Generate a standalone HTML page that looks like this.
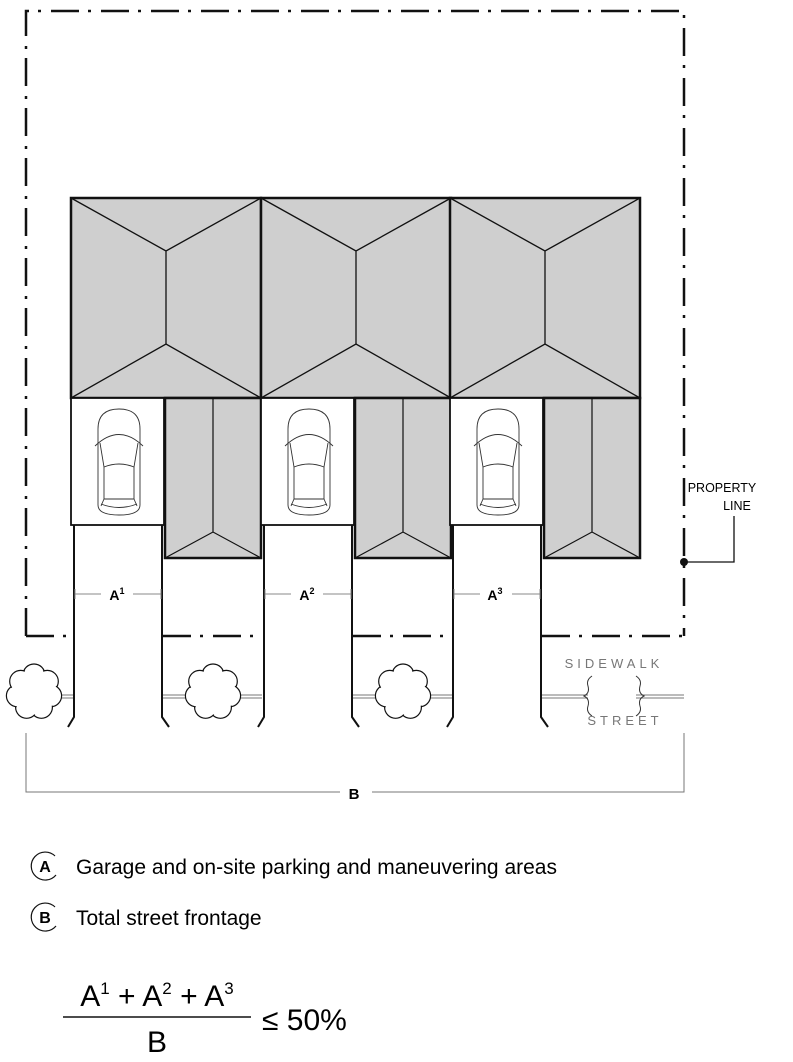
<!DOCTYPE html>
<html><head><meta charset="utf-8"><style>
html,body{margin:0;padding:0;background:#fff;}
svg{display:block;}
text{font-family:"Liberation Sans",Arial,sans-serif;}
</style></head><body>
<svg width="793" height="1062" viewBox="0 0 793 1062" xmlns="http://www.w3.org/2000/svg">
<defs>
<g id="car" fill="none" stroke="#333" stroke-width="0.9">
  <path d="M0,20 Q0,0 21,0 Q42,0 42,20 L42,96 Q42,106 21,106 Q0,106 0,96 Z"/>
  <path d="M-3,37 Q21,14 45,37"/>
  <path d="M2,34 L6,58 Q21,52 36,58 L40,34"/>
  <path d="M6,58 L6,90 M36,58 L36,90"/>
  <path d="M6,90 L36,90 M3,95 Q21,102 39,95 M6,90 L3,97 M36,90 L39,97"/>
</g>
<g id="unit">
  <rect x="0" y="198" width="190" height="200" fill="#cfcfcf" stroke="#111" stroke-width="2.5"/>
  <path d="M0,198 L95,251 L190,198 M95,251 L95,344 M0,398 L95,344 L190,398" fill="none" stroke="#111" stroke-width="1.3"/>
  <rect x="0" y="398" width="93" height="127" fill="#fff" stroke="#111" stroke-width="1.8"/>
  <rect x="94" y="398" width="96" height="160" fill="#cfcfcf" stroke="#111" stroke-width="2.5"/>
  <path d="M142,398 L142,532 M94,558 L142,532 L190,558" fill="none" stroke="#111" stroke-width="1.2"/>
  <use href="#car" x="27" y="409"/>
  <path d="M3,525 L3,717 L-3,727 M91,525 L91,717 L98,727" fill="none" stroke="#111" stroke-width="2"/>
  <path d="M4,594 L30,594 M62,594 L90,594 M4,589 L4,599 M90,589 L90,599" stroke="#888" stroke-width="1"/>
</g>
<g id="tree">
  <g fill="#fff" stroke="#111" stroke-width="1.2">
    <circle cx="0" cy="-17" r="11"/><circle cx="13.3" cy="-10.6" r="11"/><circle cx="16.6" cy="3.8" r="11"/>
    <circle cx="7.4" cy="15.3" r="11"/><circle cx="-7.4" cy="15.3" r="11"/><circle cx="-16.6" cy="3.8" r="11"/><circle cx="-13.3" cy="-10.6" r="11"/>
  </g>
  <g fill="#fff">
    <circle cx="0" cy="-17" r="9.9"/><circle cx="13.3" cy="-10.6" r="9.9"/><circle cx="16.6" cy="3.8" r="9.9"/>
    <circle cx="7.4" cy="15.3" r="9.9"/><circle cx="-7.4" cy="15.3" r="9.9"/><circle cx="-16.6" cy="3.8" r="9.9"/><circle cx="-13.3" cy="-10.6" r="9.9"/>
    <circle cx="0" cy="0" r="18"/>
  </g>
</g>
</defs>

<g fill="none" stroke="#111" stroke-width="2.5" stroke-dasharray="28,9,3,10">
  <path d="M26,636 L26,11 L684,11 L684,636"/>
  <path d="M26,636 L73,636"/>
  <path d="M163,636 L262,636"/>
  <path d="M353,636 L452,636"/>
  <path d="M542,636 L684,636"/>
</g>

<g stroke="#777" stroke-width="1">
  <path d="M60,695 L73,695 M60,698 L73,698"/>
  <path d="M163,695 L262,695 M163,698 L262,698"/>
  <path d="M353,695 L452,695 M353,698 L452,698"/>
  <path d="M542,695 L588,695 M542,698 L588,698 M636,695 L684,695 M636,698 L684,698"/>
</g>

<use href="#unit" x="71"/>
<use href="#unit" x="261"/>
<use href="#unit" x="450"/>

<text x="117" y="600" font-size="14" font-weight="bold" text-anchor="middle">A<tspan font-size="9" dy="-6">1</tspan></text>
<text x="307" y="600" font-size="14" font-weight="bold" text-anchor="middle">A<tspan font-size="9" dy="-6">2</tspan></text>
<text x="495" y="600" font-size="14" font-weight="bold" text-anchor="middle">A<tspan font-size="9" dy="-6">3</tspan></text>

<use href="#tree" x="34" y="692"/>
<use href="#tree" x="213" y="692"/>
<use href="#tree" x="403" y="692"/>

<path d="M592,676 Q586,680 588,686 Q590,693 584,696 Q590,699 588,706 Q586,712 592,716" fill="none" stroke="#333" stroke-width="1"/>
<path d="M636,676 Q642,680 640,686 Q638,693 644,696 Q638,699 640,706 Q642,712 636,716" fill="none" stroke="#333" stroke-width="1"/>
<text x="614" y="668" font-size="13" fill="#777" text-anchor="middle" letter-spacing="4">SIDEWALK</text>
<text x="625" y="725" font-size="13" fill="#777" text-anchor="middle" letter-spacing="4">STREET</text>

<text x="722" y="492" font-size="12.5" text-anchor="middle">PROPERTY</text>
<text x="737" y="510" font-size="12.5" text-anchor="middle">LINE</text>
<path d="M734,516 L734,562 L686,562" fill="none" stroke="#111" stroke-width="1.3"/>
<circle cx="684" cy="562" r="4" fill="#111"/>

<path d="M26,733 L26,792 L340,792 M372,792 L684,792 L684,733" fill="none" stroke="#777" stroke-width="1"/>
<text x="354" y="799" font-size="15" font-weight="bold" text-anchor="middle">B</text>

<!-- legend -->
<path d="M55,856 A14,14 0 1 0 56,875" fill="none" stroke="#111" stroke-width="1.2"/>
<text x="45" y="872" font-size="16" font-weight="bold" text-anchor="middle">A</text>
<text x="76" y="874" font-size="21">Garage and on-site parking and maneuvering areas</text>
<path d="M55,907 A14,14 0 1 0 56,926" fill="none" stroke="#111" stroke-width="1.2"/>
<text x="45" y="923" font-size="16" font-weight="bold" text-anchor="middle">B</text>
<text x="76" y="925" font-size="21">Total street frontage</text>

<text x="157" y="1006" font-size="30" text-anchor="middle">A<tspan font-size="17" dy="-12">1</tspan><tspan dy="12"> + A</tspan><tspan font-size="17" dy="-12">2</tspan><tspan dy="12"> + A</tspan><tspan font-size="17" dy="-12">3</tspan></text>
<line x1="63" y1="1017" x2="251" y2="1017" stroke="#111" stroke-width="1.5"/>
<text x="157" y="1052" font-size="30" text-anchor="middle">B</text>
<text x="262" y="1030" font-size="30">≤ 50%</text>
</svg>
</body></html>
